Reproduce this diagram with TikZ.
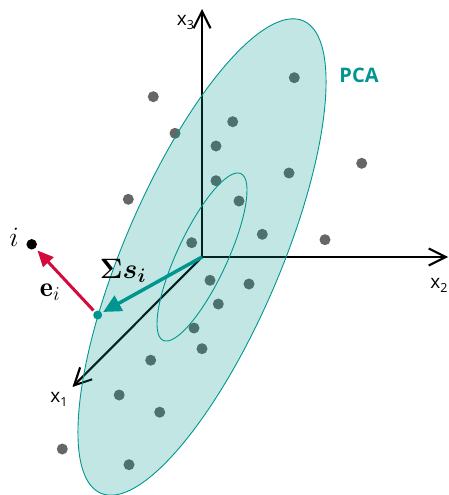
\RequirePackage{fix-cm}
\documentclass[tikz,border=0pt]{standalone}
\usepackage{amsmath}
\usepackage{fontspec}
\usetikzlibrary{arrows.meta}
\newfontfamily\lblfont{Open Sans}
\definecolor{tealc}{RGB}{0,150,143}
\definecolor{redc}{RGB}{212,10,60}
\definecolor{dotgray}{RGB}{102,102,102}
\begin{document}
\begin{tikzpicture}[x=1pt,y=-1pt,
  dot/.style={circle,fill=dotgray,inner sep=0pt,minimum size=11pt},
  axisline/.style={line width=2.1pt,-{Straight Barb[length=17pt,width=17pt,line width=2.1pt]}},
  axlabel/.style={font=\lblfont\fontsize{19}{19}\selectfont,inner sep=0pt},
  mathlabel/.style={font=\fontsize{28}{28}\selectfont,inner sep=0pt},
  ellline/.style={draw=tealc,line width=0.9pt}]
\useasboundingbox (0,0) rectangle (449,495);
\coordinate (O) at (202,257);
\coordinate (X1) at (72.5,387);
\coordinate (X2) at (448,257);
\coordinate (X3) at (202,9);
% data points
\foreach \p [count=\k] in {(294.3,77.7),(153.3,96.7),(232.7,121.7),(175,133.3),(216,146),(289,173),(361.7,163.3),(216,180.7),(128.3,199.3),(239,201),(191.7,242.7),(262.3,234.3),(325,239.7),(210,280.3),(249,284),(218.3,304),(194,328),(202,348.7),(150.7,360.2),(119.2,395),(159.7,412.2),(62.3,449),(129,464.7)}
  \node[dot] (d\k) at \p {};
% axes
\draw[axisline] (O) -- (X3);
\draw[axisline] (O) -- (X2);
\draw[axisline] (O) -- (X1);
% PCA ellipses
\begin{scope}[shift={(O)},rotate=66.8]
  \fill[tealc,opacity=0.24] (0,0) ellipse [x radius=257,y radius=78];
  \draw[ellline] (0,0) ellipse [x radius=257,y radius=78];
\end{scope}
\begin{scope}[shift={(O)},rotate=65]
  \draw[ellline] (0,0) ellipse [x radius=92,y radius=25];
\end{scope}
% points s and i
\node[circle,fill=tealc,inner sep=0pt,minimum size=9pt] (s) at (97.7,315) {};
\node[circle,fill=black,inner sep=0pt,minimum size=10.5pt] (i) at (31.7,244.3) {};
% arrows
\draw[tealc,line width=3.5pt,shorten >=1.5pt,-{Triangle[length=18pt,width=17pt]}] (O) -- (s);
\draw[redc,line width=3pt,shorten <=1.5pt,shorten >=3pt,-{Triangle[length=16pt,width=14pt]}] (s) -- (i);
% labels
\node[mathlabel] (li) at (14,237) {$i$};
\node[mathlabel] (le) at (50,292) {$\mathbf{e}_i$};
\node[mathlabel] (ls) at (123,271) {$\boldsymbol{\Sigma s_i}$};
\node[font=\lblfont\bfseries\fontsize{20}{20}\selectfont,text=tealc,inner sep=0pt] (pca) at (359,75) {PCA};
\node[axlabel] (l3) at (185.5,22) {x\raisebox{-4pt}{\fontsize{12.5}{12.5}\selectfont 3}};
\node[axlabel] (l2) at (439,285) {x\raisebox{-4pt}{\fontsize{12.5}{12.5}\selectfont 2}};
\node[axlabel] (l1) at (59,399) {x\raisebox{-4pt}{\fontsize{12.5}{12.5}\selectfont 1}};
\end{tikzpicture}
\end{document}
